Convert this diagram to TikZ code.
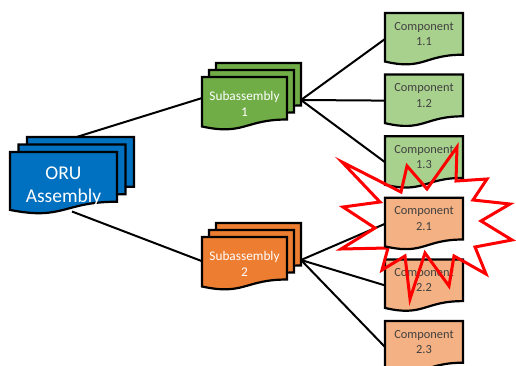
\documentclass[tikz,border=0pt]{standalone}
\usepackage{fontspec}
\setmainfont{Carlito}
\usetikzlibrary{calc}
\definecolor{compG}{HTML}{A9D18E}
\definecolor{compO}{HTML}{F4B183}
\definecolor{subG}{HTML}{70AD47}
\definecolor{subO}{HTML}{ED7D31}
\definecolor{oruB}{HTML}{0070C0}
\definecolor{txtgray}{HTML}{404040}
\tikzset{
  docbase/.style={shape=rectangle, inner sep=0pt, outer sep=0pt, draw=none},
  docline/.style={draw=black, line width=2.2pt, line join=miter},
  conn/.style={draw=black, line width=2pt},
  starline/.style={draw=red, line width=3pt, line join=miter},
  txtcomp/.style={align=center, text=txtgray, font=\fontsize{12.4}{15.5}\selectfont, inner sep=0pt},
  txtsub/.style={align=center, text=white, font=\fontsize{13.3}{16}\selectfont, inner sep=0pt},
  txtoru/.style={align=center, text=white, font=\fontsize{19.5}{23}\selectfont, inner sep=0pt}
}
% name, x, y, w, h, fill
\newcommand\docshape[6]{%
  \node[docbase, minimum width=#4pt, minimum height=#5pt, anchor=north west] (#1) at (#2,#3) {};
  \filldraw[docline, fill=#6] (#1.north west) -- (#1.north east)
    -- ($(#1.north east)!0.802!(#1.south east)$)
    .. controls ($(#1.north)!0.802!(#1.south)$) and ($(#1.north)!1.1075!(#1.south)$)
    .. ($(#1.north west)!0.934!(#1.south west)$) -- cycle;}
% name, x, y, w, h, fill, text style, text, vertical fraction
\newcommand\docbox[9]{%
  \docshape{#1}{#2}{#3}{#4}{#5}{#6}
  \node[#7] (#1t) at ($(#1.north)!#9!(#1.south)$) {#8};}
\begin{document}
\begin{tikzpicture}[x=1pt, y=-1pt]
\useasboundingbox (0,0) rectangle (516,366);
\clip (0,0) rectangle (516,366);
% hub coordinates
\coordinate (oruA) at (75,137.5);
\coordinate (oruC) at (72,211.5);
\coordinate (s1in) at (215,94);
\coordinate (s2in) at (212,265);
\coordinate (s1hub) at (301,100);
\coordinate (s2hub) at (301,260);
% components (nodes first, so connectors can use names)
\docbox{c11}{385}{13}{78}{52}{compG}{txtcomp}{Component\\1.1}{0.4}
\docbox{c12}{385}{74.6}{78}{52}{compG}{txtcomp}{Component\\1.2}{0.4}
\docbox{c13}{385}{136.2}{78}{52}{compG}{txtcomp}{Component\\1.3}{0.4}
\docbox{c22}{385}{259.4}{78}{52}{compO}{txtcomp}{Component\\2.2}{0.4}
\docbox{c23}{385}{321}{78}{52}{compO}{txtcomp}{Component\\2.3}{0.4}
% connectors
\draw[conn] (oruA) -- (s1in);
\draw[conn] (oruC) -- (s2in);
\draw[conn] (s1hub) -- (c11.west);
\draw[conn] (s1hub) -- (c12.west);
\draw[conn] (s1hub) -- (c13.west);
\draw[conn] (s2hub) -- (385,223.8);
\draw[conn] (s2hub) -- (c22.west);
\draw[conn] (s2hub) -- (c23.west);
% ORU stack
\docshape{oru3}{27}{137}{107}{62}{oruB}
\docshape{oru2}{18.5}{144.5}{107}{62}{oruB}
\docbox{oru}{10}{152}{107}{62}{oruB}{txtoru}{ORU\\Assembly}{0.55}
% Subassembly 1 stack
\docshape{s1c}{216}{63}{85}{53}{subG}
\docshape{s1b}{209}{70}{85}{53}{subG}
\docbox{s1}{202}{77}{85}{53}{subG}{txtsub}{Subassembly\\1}{0.5}
% Subassembly 2 stack
\docshape{s2c}{216}{223}{85}{53}{subO}
\docshape{s2b}{209}{230}{85}{53}{subO}
\docbox{s2}{202}{237}{85}{53}{subO}{txtsub}{Subassembly\\2}{0.5}
% explosion
\draw[starline] (342,162) -- (401,192) -- (407,166) -- (427,189) -- (457,147)
  -- (456,181) -- (487,179) -- (473,200) -- (510,204) -- (481,221)
  -- (512,240) -- (475,247) -- (486,274) -- (454,256) -- (449,286)
  -- (425,253) -- (410,299) -- (405,256) -- (382,270) -- (388,248)
  -- (341,249) -- (375,228) -- (343,207) -- (380,202) -- cycle;
\docbox{c21}{385}{197.8}{78}{52}{compO}{txtcomp}{Component\\2.1}{0.4}
\end{tikzpicture}
\end{document}
